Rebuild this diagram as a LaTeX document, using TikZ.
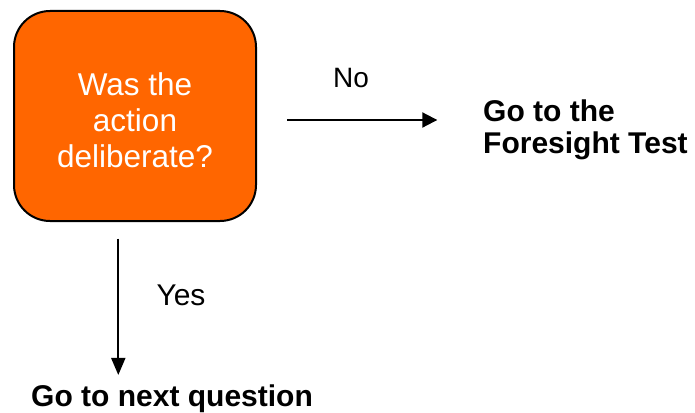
\documentclass[tikz,border=0pt]{standalone}
\usepackage{fontspec}
\setmainfont{Liberation Sans}
\usetikzlibrary{arrows.meta}
\definecolor{boxorange}{HTML}{FF6600}
\begin{document}
\begin{tikzpicture}[x=1pt,y=-1pt,
  question/.style={draw=black, line width=2pt, fill=boxorange, rounded corners=36pt,
    minimum width=242pt, minimum height=210pt, text=white, align=center,
    font=\fontsize{31.5}{35.7}\selectfont, inner sep=0pt},
  answer/.style={inner sep=0pt, anchor=base},
  target/.style={font=\fontsize{30}{31.6}\selectfont\bfseries, align=left, inner sep=0pt},
  flow/.style={line width=2pt, -{Triangle[length=15pt,width=15pt]}},
  flowdown/.style={line width=2pt, -{Triangle[length=17pt,width=14pt]}}]
\useasboundingbox (0,0) rectangle (695,412);

% decision box
\node[question] (q) at (135,116) {\rule{0pt}{31.4pt}Was the\\action\\deliberate?};

% outcomes
\node[target, anchor=north west] (fs) at (483,100) {Go to the\\Foresight Test};
\node[target, anchor=base west] (next) at (31,406.7) {Go to next question};

% branch labels
\node[answer, font=\fontsize{28}{34}\selectfont] (no) at (351,87.3) {No};
\node[answer, font=\fontsize{30}{36}\selectfont] (yes) at (181,305) {Yes};

% connectors
\coordinate (noy) at ([yshift=-4pt]q.east);
\draw[flow, shorten <=30pt, shorten >=45.7pt] (noy) -- (noy -| fs.west);
\coordinate (yesx) at ([xshift=-16.7pt]q.south);
\draw[flowdown, shorten <=16.7pt, shorten >=9.8pt] (yesx) -- (yesx |- next.north);
\end{tikzpicture}
\end{document}
